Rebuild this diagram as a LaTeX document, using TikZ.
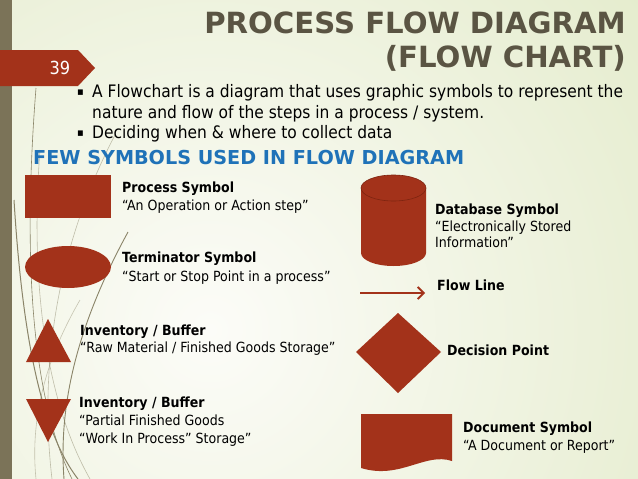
\documentclass[tikz,border=0pt]{standalone}
\usepackage{fontspec}
\setmainfont{DejaVu Sans}[FakeStretch=0.9]
\newfontfamily\widefont{DejaVu Sans}
\usetikzlibrary{arrows.meta}
\definecolor{rust}{HTML}{A3321A}
\definecolor{rustdark}{HTML}{7E2410}
\definecolor{barcol}{HTML}{7B7358}
\definecolor{titlecol}{HTML}{5A5443}
\definecolor{headblue}{HTML}{1F72B8}
\definecolor{bgin}{HTML}{FCFCF8}
\definecolor{bgout}{HTML}{D6E2B2}
\definecolor{deco}{HTML}{8A8468}
\tikzset{
  lbl/.style={anchor=base west, inner sep=0pt, font=\bfseries\fontsize{14}{16}\selectfont},
  qt/.style={anchor=base west, inner sep=0pt, font=\fontsize{14}{16}\selectfont},
  body/.style={anchor=base west, inner sep=0pt, font=\fontsize{17.2}{19}\selectfont},
  bmark/.style={anchor=base west, inner sep=0pt, font=\fontsize{11}{12}\selectfont},
  ttl/.style={anchor=base east, inner sep=0pt, text=titlecol, font=\widefont\bfseries\fontsize{29.2}{34}\selectfont},
  sym/.style={fill=rust},
  decoline/.style={draw=deco, line width=0.6pt},
}
\begin{document}
\begin{tikzpicture}[x=1pt,y=-1pt]
\useasboundingbox (0,0) rectangle (638,479);
% background
\begin{scope}
\clip (0,0) rectangle (638,479);
\fill[bgout] (0,0) rectangle (638,479);
\shade[inner color=bgin, outer color=bgout] (210,330) circle (900);
\end{scope}
% left bar
\fill[barcol] (0,0) rectangle (12,479);
% decorative lines
\draw[decoline] (36,88) .. controls (24,240) and (28,390) .. (72,479);
\draw[decoline, line width=1pt] (14,200) .. controls (22,330) and (40,430) .. (78,479);
\draw[decoline, opacity=0.5] (115,135) .. controls (60,240) and (38,360) .. (52,479);
\draw[decoline, line width=0.9pt] (128,232) .. controls (80,320) and (58,400) .. (64,479);
\draw[decoline, opacity=0.45] (80,300) .. controls (45,360) and (30,420) .. (36,479);
\draw[decoline, opacity=0.5] (40,150) .. controls (30,280) and (45,400) .. (90,479);
% slide number tag
\fill[rust] (0,50) -- (78,50) -- (95,68) -- (78,86) -- (0,86) -- cycle;
\node[text=white, font=\fontsize{18}{19}\selectfont, inner sep=0pt] (num) at (60,68) {39};
% title
\node[ttl] (t1) at (626,33) {PROCESS FLOW DIAGRAM};
\node[ttl] (t2) at (626,67) {(FLOW CHART)};
% bullets
\node[bmark] (b1m) at (77,95) {▪};
\node[body] (b1) at (92,97) {A Flowchart is a diagram that uses graphic symbols to represent the};
\node[body] (b1b) at (92,118) {nature and flow of the steps in a process / system.};
\node[bmark] (b2m) at (77,136) {▪};
\node[body] (b2) at (92,138) {Deciding when \& where to collect data};
% heading
\node[anchor=base west, inner sep=0pt, text=headblue, font=\widefont\bfseries\fontsize{19.2}{22}\selectfont] (head) at (33,164) {FEW SYMBOLS USED IN FLOW DIAGRAM};
% process
\fill[sym] (25,175) rectangle (111,218);
\node[lbl] (pl) at (122,192) {Process Symbol};
\node[qt] (pq) at (122,210) {“An Operation or Action step”};
% terminator
\fill[sym] (68,267) ellipse [x radius=43, y radius=21];
\node[lbl] (tl) at (122,262) {Terminator Symbol};
\node[qt] (tq) at (122,281) {“Start or Stop Point in a process”};
% inventory up
\fill[sym] (48,319) -- (71,362) -- (26,362) -- cycle;
\node[lbl] (i1l) at (80,335) {Inventory / Buffer};
\node[qt] (i1q) at (80,352) {“Raw Material / Finished Goods Storage”};
% inventory down
\fill[sym] (26,399) -- (71,399) -- (48,442) -- cycle;
\node[lbl] (i2l) at (79,407) {Inventory / Buffer};
\node[qt] (i2q) at (79,425) {“Partial Finished Goods};
\node[qt] (i2r) at (79,443) {“Work In Process” Storage”};
% database
\fill[sym] (361,188) -- (361,253) arc[start angle=180, end angle=0, x radius=32.5, y radius=13] -- (426,188) -- cycle;
\fill[sym] (393.5,188) ellipse [x radius=32.5, y radius=13];
\draw[rustdark, line width=0.6pt] (393.5,188) ellipse [x radius=32.5, y radius=13];
\node[lbl] (dl) at (435,214) {Database Symbol};
\node[qt] (dq) at (435,231) {“Electronically Stored};
\node[qt] (dr) at (435,247) {Information”};
% flow line
\coordinate (fa) at (360,293);
\coordinate (fb) at (425,293);
\draw[rust, line width=1.8pt, -{Straight Barb[length=6pt, width=12pt]}] (fa) -- (fb);
\node[lbl] (fl) at (437,290) {Flow Line};
% decision
\fill[sym] (398,313) -- (441,352) -- (398,393) -- (356,352) -- cycle;
\node[lbl] (dp) at (447,355) {Decision Point};
% document
\fill[sym] (361,414) -- (452,414) -- (452,461) .. controls (425,452) and (400,480) .. (361,468) -- cycle;
\node[lbl] (docl) at (463,432) {Document Symbol};
\node[qt] (docq) at (463,450) {“A Document or Report”};
\end{tikzpicture}
\end{document}
